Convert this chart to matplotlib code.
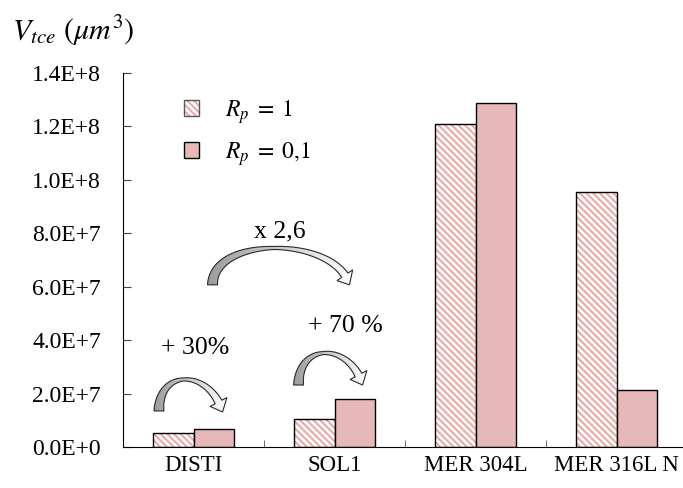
import matplotlib.pyplot as plt
import numpy as np
from matplotlib.patches import Polygon, Rectangle
from matplotlib.colors import LinearSegmentedColormap

# donnees
categories = ['DISTI', 'SOL1', 'MER 304L', 'MER 316L N']
rp_1 = [5.2e6, 1.05e7, 1.21e8, 9.55e7]
rp_01 = [6.7e6, 1.8e7, 1.288e8, 2.13e7]
yticks = [0, 2e7, 4e7, 6e7, 8e7, 1e8, 1.2e8, 1.4e8]
ytick_labels = ['0.0E+0', '2.0E+7', '4.0E+7', '6.0E+7', '8.0E+7', '1.0E+8', '1.2E+8', '1.4E+8']
annotations = ['+ 30%', '+ 70 %', 'x 2,6']

plt.rcParams['font.family'] = ['Liberation Serif', 'DejaVu Serif']
plt.rcParams['mathtext.fontset'] = 'stix'
plt.rcParams['hatch.linewidth'] = 1.4

pink = '#e6b8b7'
hatch_pink = '#eba3a3'

fig = plt.figure(figsize=(6.83, 4.88), dpi=100)
ax = fig.add_axes([123 / 683, 41 / 488, 564 / 683, 374 / 488])
ax.set_xlim(-0.5, 3.5)
ax.set_ylim(0, 1.4e8)

x = np.arange(len(categories))
w = 0.285
# barres hachurees : hachures roses puis contour noir
ax.bar(x - w / 2, rp_1, w, color='white', edgecolor=hatch_pink, hatch='\\\\\\\\\\', linewidth=0)
ax.bar(x - w / 2, rp_1, w, fill=False, edgecolor='black', linewidth=1.0)
ax.bar(x + w / 2, rp_01, w, color=pink, edgecolor='black', linewidth=1.0)

# legende faite a la main
h1 = Rectangle((0, 0), 1, 1, facecolor='white', edgecolor=hatch_pink, hatch='\\\\\\\\\\', linewidth=0)
h2 = Rectangle((0, 0), 1, 1, facecolor=pink, edgecolor='black', linewidth=1)
h1b = Rectangle((0, 0), 1, 1, fill=False, edgecolor='#555555', linewidth=1)
leg = ax.legend([(h1, h1b), h2], [r'$R_p\;=\;1$', r'$R_p\;=\;0{,}1$'], loc='upper left',
                bbox_to_anchor=(0.07, 0.99), frameon=False, fontsize=17,
                handlelength=0.65, handleheight=0.65, handletextpad=1.1, labelspacing=0.6)

fig.text(12 / 683, 1 - 31 / 488, r'$V_{tce}\ (\mu m^3)$', fontsize=21.5, va='center')

# fleches courbes avec degrade gris -> blanc (polygone construit en pixels)
cmap = LinearSegmentedColormap.from_list('g', ['#9c9c9c', '#ffffff'])
grad = np.linspace(0, 1, 256).reshape(1, -1)

def fleche(x0, y0, x1, y1, h, head=9.5, hl=11):
    tr = ax.transData
    p0 = tr.transform((x0, y0))
    p3 = tr.transform((x1, y1))
    hp = tr.transform((x0, y0 + h))[1] - p0[1]
    c1 = p0 + [0, hp]
    c2 = p3 + [-0.3 * hp, hp]
    t = np.linspace(0, 1, 400)[:, None]
    pts = (1 - t) ** 3 * p0 + 3 * (1 - t) ** 2 * t * c1 + 3 * (1 - t) * t ** 2 * c2 + t ** 3 * p3
    d = np.r_[0, np.cumsum(np.hypot(*np.diff(pts, axis=0).T))]
    k = np.searchsorted(d, d[-1] - hl)
    corps = pts[:k + 1]
    s = d[:k + 1] / d[k]
    demi = np.interp(s, [0, 0.5, 1], [5.0, 1.5, 3.8])
    tg = np.gradient(corps, axis=0)
    tg = tg / np.hypot(tg[:, 0], tg[:, 1])[:, None]
    nrm = np.c_[-tg[:, 1], tg[:, 0]]
    gauche = corps + demi[:, None] * nrm
    droite = corps - demi[:, None] * nrm
    base = corps[-1]
    n = nrm[-1]
    poly = np.vstack([gauche, base + head * n, p3, base - head * n, droite[::-1]])
    poly = tr.inverted().transform(poly)
    a = Polygon(poly, closed=True, facecolor='none', edgecolor='#2a2a2a', linewidth=0.8, zorder=4)
    ax.add_patch(a)
    xs, ys = poly[:, 0], poly[:, 1]
    im = ax.imshow(grad, cmap=cmap, extent=[xs.min(), xs.max(), ys.min(), ys.max()],
                   aspect='auto', zorder=3, interpolation='bilinear')
    im.set_clip_path(a)

fleche(-0.245, 1.35e7, 0.206, 1.31e7, 1.6e7)
fleche(0.745, 2.32e7, 1.199, 2.32e7, 1.6e7)
fleche(0.135, 6.07e7, 1.106, 6.07e7, 1.84e7)

ax.text(0.01, 3.5e7, annotations[0], fontsize=18.5, ha='center')
ax.text(1.08, 4.3e7, annotations[1], fontsize=18.5, ha='center')
ax.text(0.615, 7.85e7, annotations[2], fontsize=18.5, ha='center')

ax.set_xlim(-0.5, 3.5)
ax.set_ylim(0, 1.4e8)
ax.set_yticks(yticks)
ax.set_yticklabels(ytick_labels, fontsize=17)
ax.set_xticks(x)
ax.set_xticklabels(categories, fontsize=16.5)
ax.tick_params(axis='x', length=0, pad=6)
ax.set_xticks(np.arange(-0.5, 3.6, 1), minor=True)
ax.tick_params(axis='x', which='minor', length=5, direction='in', color='#555555')
ax.tick_params(axis='y', length=6, direction='in', pad=16, color='#444444')
ax.spines['top'].set_visible(False)
ax.spines['right'].set_visible(False)

fig.savefig('out.png', dpi=100)
